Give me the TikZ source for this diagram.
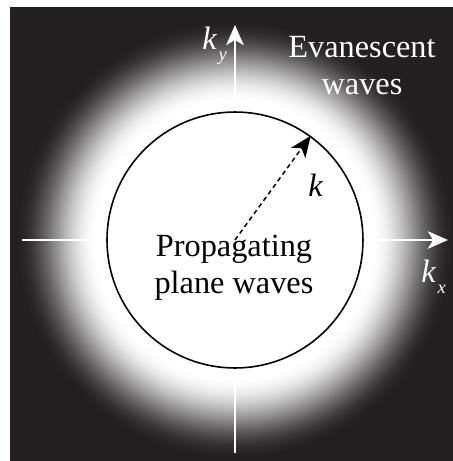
\documentclass[tikz,border=0pt]{standalone}
\usepackage{fontspec}
\setmainfont{Liberation Serif}
\usetikzlibrary{arrows.meta}
\definecolor{kbg}{RGB}{35,31,32}
\newcommand{\kComp}[1]{%
    \textit{k}\kern0.8pt\raisebox{-6.8pt}{\fontsize{10.5}{10.5}\selectfont\textit{#1}}%
}

\begin{document}
\begin{tikzpicture}[x=0.02cm, y=0.02cm,
    every node/.style={font=\fontsize{18.4}{20.5}\selectfont, inner sep=0pt},
    axis/.style={white, line width=1.1pt, -{Stealth[length=11.5pt, width=10pt, inset=3pt]}},
    radius/.style={black, line width=0.85pt, dash pattern=on 2.6pt off 2pt,
        -{Stealth[length=12pt, width=10pt, inset=3.2pt]}}]
    \useasboundingbox (-235,-221) rectangle (218,240);
    \fill[kbg] (-225,-221) rectangle (218,233);
    \coordinate (o) at (0,0);
    % evanescent glow round the circle
    \begin{scope}
        \clip (-225,-221) rectangle (218,233);
        \foreach \r in {222,220,...,138} {
            \pgfmathsetmacro{\p}{50*(1+cos(180*(\r-138)/84))}
            \fill[white!\p!kbg] (o) circle (\r);
        }
    \end{scope}
    \coordinate (xl) at (-213,0);
    \coordinate (xr) at (213,0);
    \coordinate (yb) at (0,-213);
    \coordinate (yt) at (0,215);
    \draw[axis] (xl) -- (xr);
    \draw[axis] (yb) -- (yt);
    \node[circle, draw, fill=white, line width=0.9pt, minimum size=5.12cm] (disc) at (o) {};
    \draw[radius] (o) -- (disc.54);
    \node[anchor=base west] (klbl) at (73,44) {\textit{k}};
    \node[anchor=base west, white] (kylbl) at (-33,191) {\kComp{y}};
    \node[anchor=base west, white] (kxlbl) at (186,-42) {\kComp{x}};
    \node[anchor=base, white, align=center] (evan) at (127,146) {Evanescent\\waves};
    \node[anchor=base, align=center] (prop) at (-1,-53) {Propagating\\plane waves};
\end{tikzpicture}
\end{document}
